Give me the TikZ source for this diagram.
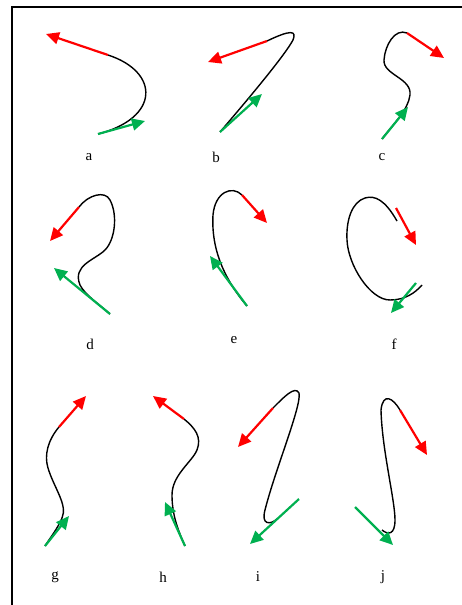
\documentclass[tikz,border=0pt]{standalone}
\usepackage{fontspec}
\setmainfont{Liberation Serif}
\usepackage{xcolor}
\usepackage{tikz}
\usetikzlibrary{arrows.meta}

\definecolor{vecred}{RGB}{255,0,0}
\definecolor{vecgreen}{RGB}{0,176,80}

\begin{document}
\begin{tikzpicture}[x=1pt,y=-1pt,
	curve/.style={black,line width=1.4pt},
	redvec/.style={vecred,line width=2.2pt,-{Triangle[length=13pt,width=12pt]}},
	greenvec/.style={vecgreen,line width=2.2pt,-{Triangle[length=13pt,width=12pt]}},
	lab/.style={font=\fontsize{15}{17}\selectfont}]
	\useasboundingbox (0,0) rectangle (462,605);
	% frame
	\draw[line width=1.2pt] (12,605) -- (12,7) -- (462,7);
	% a
	\coordinate (a0) at (108,55);
	\coordinate (a1) at (98,134);
	\draw[curve] (a0) .. controls (160,72) and (160,118) .. (a1);
	\coordinate (ar) at (46,34);
	\coordinate (ag) at (145,121);
	\draw[redvec] (a0) -- (ar);
	\draw[greenvec] (a1) -- (ag);
	\node[lab] (la) at (89,157) {a};
	% b
	\coordinate (b0) at (267,41);
	\coordinate (b1) at (220,132);
	\draw[curve] (b1) .. controls (250,97) and (285,55) .. (293,40)
		.. controls (297,30) and (290,30) .. (b0);
	\coordinate (br) at (208,62);
	\coordinate (bg) at (262,94);
	\draw[redvec] (b0) -- (br);
	\draw[greenvec] (b1) -- (bg);
	\node[lab] (lb) at (216,157) {b};
	% c
	\coordinate (c0) at (407,33);
	\coordinate (c1) at (382,139);
	\draw[curve] (c0) .. controls (395,28) and (385,45) .. (384,60)
		.. controls (383,75) and (412,78) .. (410,95)
		.. controls (408,110) and (395,122) .. (c1);
	\coordinate (cr) at (444,58);
	\coordinate (cg) at (408,107);
	\draw[redvec] (c0) -- (cr);
	\draw[greenvec] (c1) -- (cg);
	\node[lab] (lc) at (382,157) {c};
	% d
	\coordinate (d0) at (79,207);
	\coordinate (d1) at (110,314);
	\draw[curve] (d0) .. controls (88,195) and (105,190) .. (110,200)
		.. controls (118,215) and (115,240) .. (105,250)
		.. controls (95,260) and (72,265) .. (80,285)
		.. controls (85,295) and (100,305) .. (d1);
	\coordinate (dr) at (50,241);
	\coordinate (dg) at (54,268);
	\draw[redvec] (d0) -- (dr);
	\draw[greenvec] (d1) -- (dg);
	\node[lab] (ld) at (90,344) {d};
	% e
	\coordinate (e0) at (242,195);
	\coordinate (e1) at (247,306);
	\draw[curve] (e0) .. controls (232,185) and (215,192) .. (213,215)
		.. controls (211,250) and (225,280) .. (e1);
	\coordinate (er) at (267,223);
	\coordinate (eg) at (210,256);
	\draw[redvec] (e0) -- (er);
	\draw[greenvec] (e1) -- (eg);
	\node[lab] (le) at (234,340) {e};
	% f
	\coordinate (f0) at (397,221);
	\coordinate (f1) at (422,285);
	\draw[curve] (f0) .. controls (385,200) and (375,195) .. (365,198)
		.. controls (352,202) and (346,220) .. (347,240)
		.. controls (348,265) and (370,300) .. (390,300)
		.. controls (405,300) and (415,293) .. (f1);
	\coordinate (fr0) at (396,208);
	\coordinate (fr) at (416,245);
	\coordinate (fg0) at (416,283);
	\coordinate (fg) at (391,313);
	\draw[redvec] (fr0) -- (fr);
	\draw[greenvec] (fg0) -- (fg);
	\node[lab] (lf) at (394,344) {f};
	% g
	\coordinate (g0) at (59,427);
	\coordinate (g1) at (45,546);
	\draw[curve] (g0) .. controls (48,440) and (44,455) .. (48,468)
		.. controls (54,488) and (68,505) .. (62,518)
		.. controls (58,528) and (50,538) .. (g1);
	\coordinate (gr) at (86,396);
	\coordinate (gg) at (69,516);
	\draw[redvec] (g0) -- (gr);
	\draw[greenvec] (g1) -- (gg);
	\node[lab] (lg) at (55,577) {g};
	% h
	\coordinate (h0) at (184,419);
	\coordinate (h1) at (185,546);
	\draw[curve] (h0) .. controls (195,428) and (202,437) .. (197,450)
		.. controls (192,462) and (172,475) .. (172,495)
		.. controls (172,515) and (178,530) .. (h1);
	\coordinate (hr) at (153,396);
	\coordinate (hg) at (165,502);
	\draw[redvec] (h0) -- (hr);
	\draw[greenvec] (h1) -- (hg);
	\node[lab] (lh) at (163,577) {h};
	% i
	\coordinate (i0) at (273,408);
	\coordinate (i1) at (277,519);
	\draw[curve] (i0) .. controls (283,398) and (295,385) .. (299,393)
		.. controls (302,405) and (275,470) .. (265,510)
		.. controls (261,525) and (270,525) .. (i1);
	\coordinate (ir) at (238,447);
	\coordinate (ig0) at (299,499);
	\coordinate (ig) at (250,544);
	\draw[redvec] (i0) -- (ir);
	\draw[greenvec] (ig0) -- (ig);
	\node[lab] (li) at (258,577) {i};
	% j
	\coordinate (j0) at (400,410);
	\coordinate (j1) at (382,530);
	\draw[curve] (j0) .. controls (393,398) and (383,392) .. (381,410)
		.. controls (382,450) and (395,500) .. (395,520)
		.. controls (395,535) and (388,535) .. (j1);
	\coordinate (jr) at (427,455);
	\coordinate (jg0) at (355,507);
	\coordinate (jg) at (393,545);
	\draw[redvec] (j0) -- (jr);
	\draw[greenvec] (jg0) -- (jg);
	\node[lab] (lj) at (383,577) {j};
\end{tikzpicture}
\end{document}
